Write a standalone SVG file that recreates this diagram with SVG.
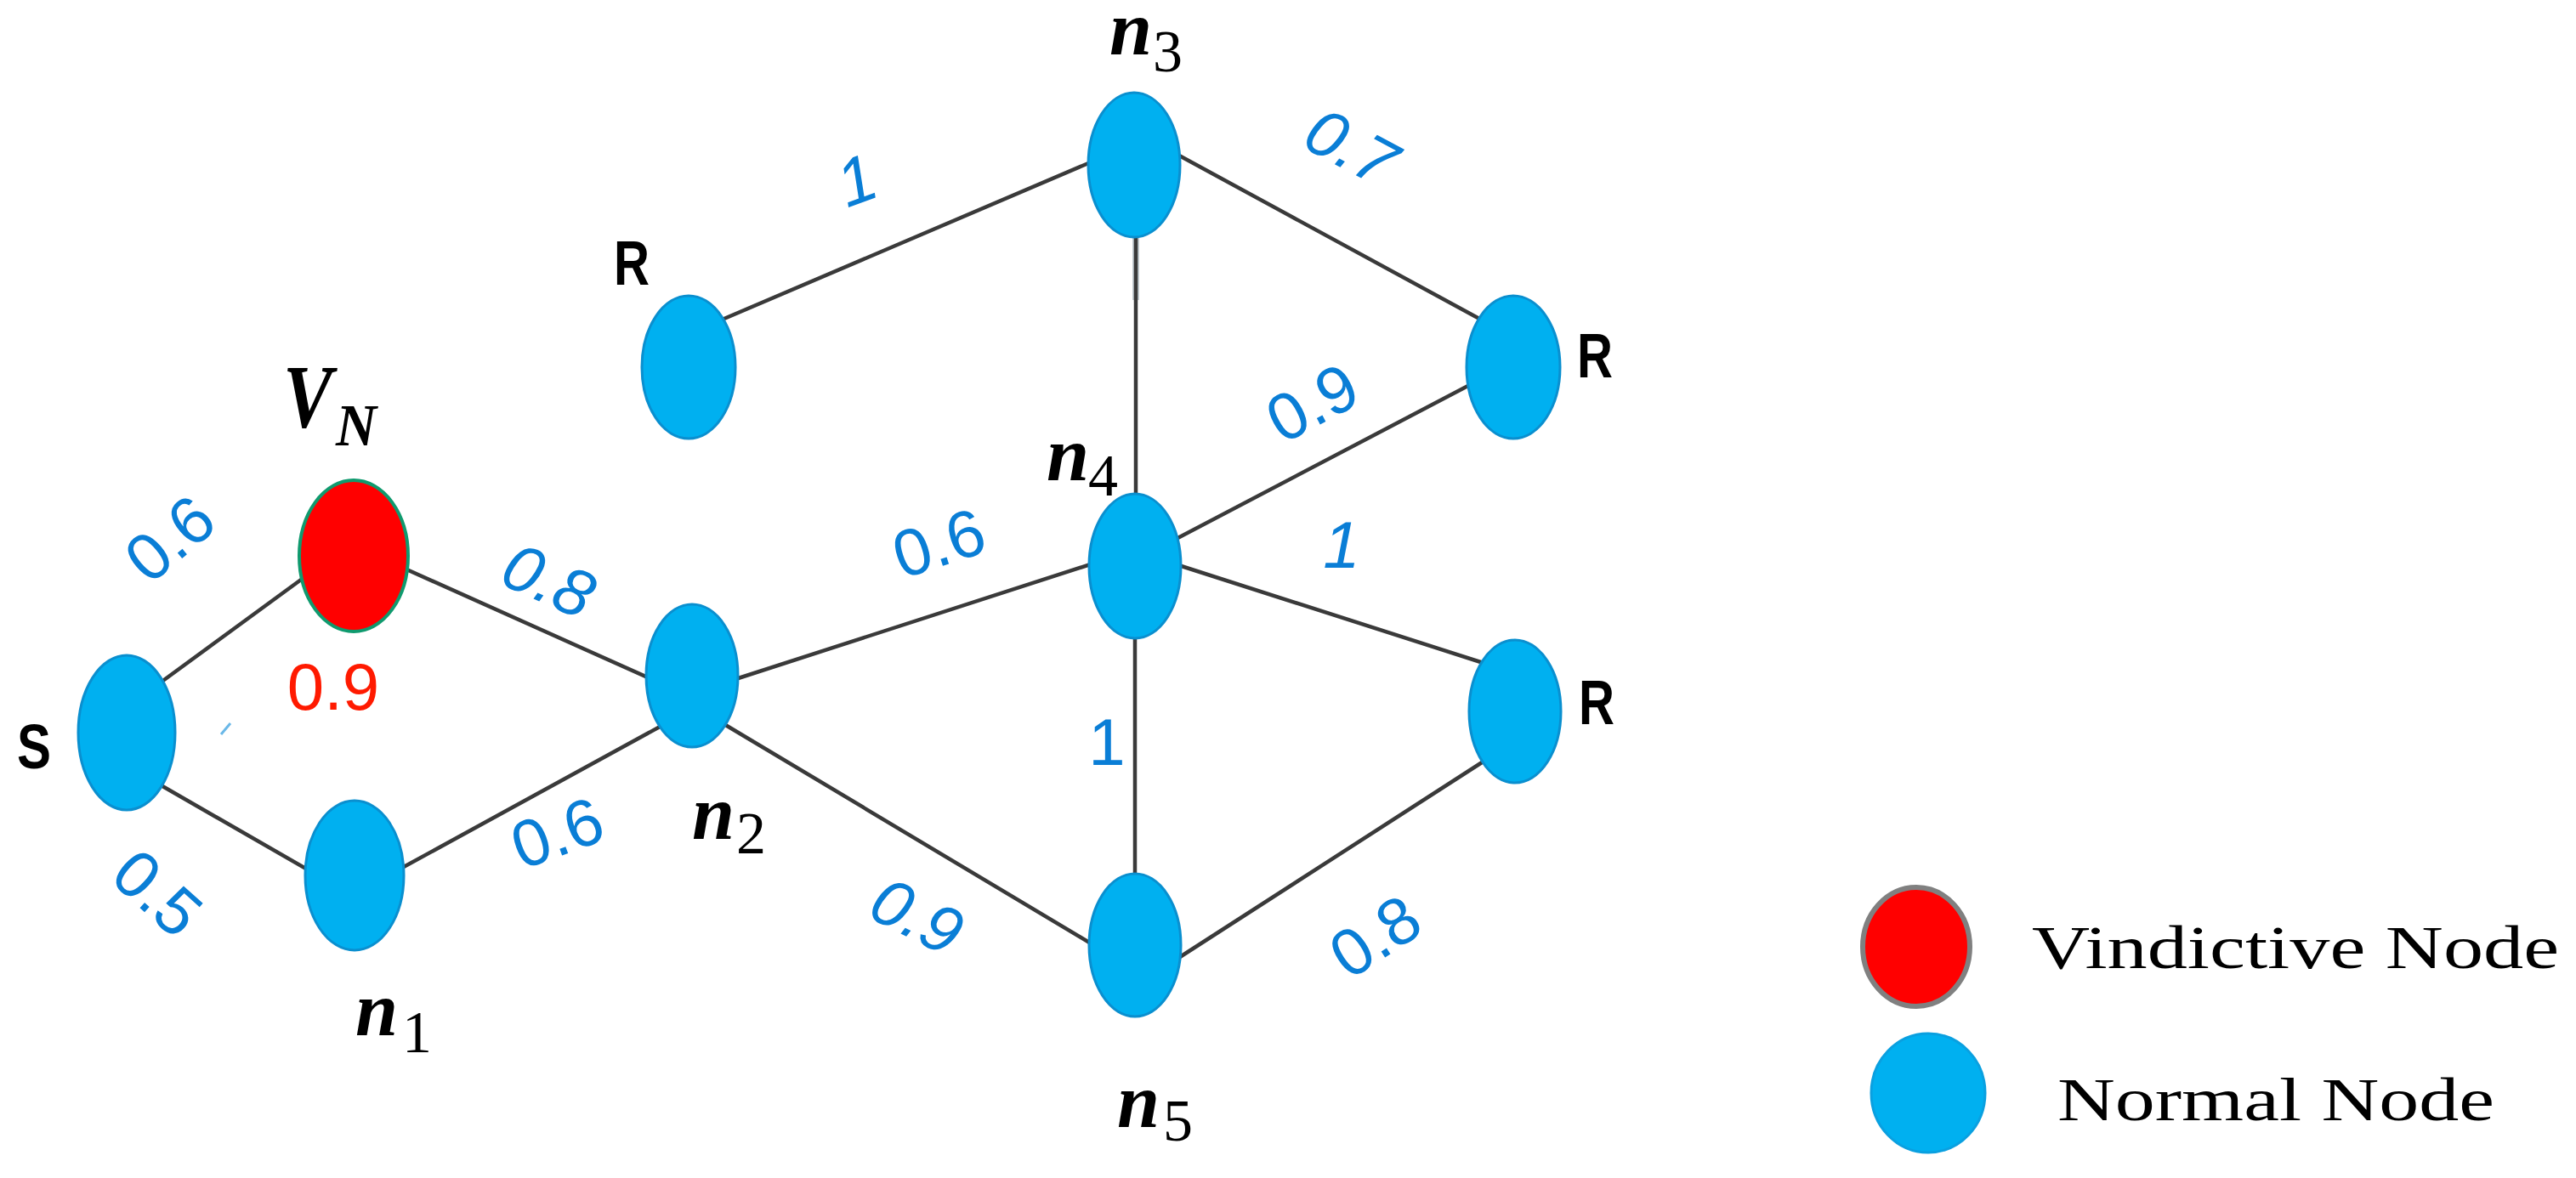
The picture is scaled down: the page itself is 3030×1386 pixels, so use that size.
<svg xmlns="http://www.w3.org/2000/svg" width="3030" height="1386" viewBox="0 0 3030 1386">
<style>
.edge{stroke:#3a3a3a;stroke-width:4.5;fill:none;stroke-linecap:round}
.node{fill:#00b0f0;stroke:#0a8fcf;stroke-width:3}
.w{font-family:"Liberation Sans",Arial,sans-serif;font-size:78px;fill:#0a7ed6;text-anchor:middle}
.lbl{font-family:"Liberation Sans",Arial,sans-serif;font-size:75px;font-weight:bold;fill:#000}
.ni{font-family:"Liberation Serif","Times New Roman",serif;font-size:90px;font-style:italic;font-weight:bold;fill:#000}
.sub{font-family:"Liberation Serif","Times New Roman",serif;font-size:70px;fill:#000}
.leg{font-family:"Liberation Serif","Times New Roman",serif;font-size:72px;fill:#000}
</style>
<rect width="3030" height="1386" fill="#ffffff"/>
<g id="connectors">
<line class="edge" x1="182" y1="808" x2="365" y2="674"/>
<line class="edge" x1="179" y1="918" x2="372" y2="1029"/>
<line class="edge" x1="465" y1="664" x2="775" y2="803"/>
<line class="edge" x1="462" y1="1027" x2="789" y2="848"/>
<line class="edge" x1="856" y1="802" x2="1295" y2="660"/>
<line class="edge" x1="845" y1="848" x2="1293" y2="1116"/>
<line class="edge" x1="840" y1="380" x2="1292" y2="187"/>
<line class="edge" x1="1376" y1="177" x2="1753" y2="382"/>
<line class="edge" x1="1372" y1="640" x2="1740" y2="447"/>
<line class="edge" x1="1377" y1="662" x2="1751" y2="782"/>
<line class="edge" x1="1377" y1="1133" x2="1754" y2="890"/>
<line x1="1336" y1="279" x2="1336" y2="353" stroke="#c3ccd2" stroke-width="8"/>
<line class="edge" x1="1336" y1="270" x2="1336" y2="590"/>
<line class="edge" x1="1335" y1="740" x2="1335" y2="1040"/>
<line x1="260" y1="864" x2="271" y2="851" stroke="#6ab8e8" stroke-width="3"/>
</g>
<g id="node-S">
<ellipse class="node" cx="149" cy="862" rx="57" ry="91"/>
<text class="lbl" x="20" y="904" textLength="40" lengthAdjust="spacingAndGlyphs">S</text>
</g>
<g id="node-VN">
<ellipse cx="416" cy="654" rx="64" ry="89" fill="#ff0000" stroke="#0f9a6e" stroke-width="4"/>
<text x="333" y="502" font-family="Liberation Serif,'Times New Roman',serif" font-size="105" font-style="italic" font-weight="bold" textLength="58" lengthAdjust="spacingAndGlyphs">V</text>
<text x="395" y="524" font-family="Liberation Serif,'Times New Roman',serif" font-size="70" font-style="italic" font-weight="bold" textLength="48" lengthAdjust="spacingAndGlyphs">N</text>
<text x="392" y="835" font-family="Liberation Sans,Arial,sans-serif" font-size="78" fill="#ff1a00" text-anchor="middle">0.9</text>
</g>
<g id="node-n1">
<ellipse class="node" cx="417" cy="1030" rx="58" ry="88"/>
<text class="ni" x="418" y="1218">n</text><text class="sub" x="473" y="1238">1</text>
</g>
<g id="node-n2">
<ellipse class="node" cx="814" cy="795" rx="54" ry="84"/>
<text class="ni" x="814" y="987">n</text><text class="sub" x="866" y="1004">2</text>
</g>
<g id="node-R1">
<ellipse class="node" cx="810" cy="432" rx="55" ry="84"/>
<text class="lbl" x="722" y="335" textLength="42" lengthAdjust="spacingAndGlyphs">R</text>
</g>
<g id="node-n3">
<ellipse class="node" cx="1334" cy="194" rx="54" ry="85"/>
<text class="ni" x="1305" y="64">n</text><text class="sub" x="1356" y="84">3</text>
</g>
<g id="node-n4">
<ellipse class="node" cx="1335" cy="666" rx="54" ry="85"/>
<text class="ni" x="1231" y="565">n</text><text class="sub" x="1280" y="583">4</text>
</g>
<g id="node-n5">
<ellipse class="node" cx="1335" cy="1112" rx="54" ry="84"/>
<text class="ni" x="1314" y="1326">n</text><text class="sub" x="1368" y="1342">5</text>
</g>
<g id="node-R2">
<ellipse class="node" cx="1780" cy="432" rx="55" ry="84"/>
<text class="lbl" x="1855" y="444" textLength="42" lengthAdjust="spacingAndGlyphs">R</text>
</g>
<g id="node-R3">
<ellipse class="node" cx="1782" cy="837" rx="54" ry="84"/>
<text class="lbl" x="1857" y="852" textLength="42" lengthAdjust="spacingAndGlyphs">R</text>
</g>
<g id="weights">
<text class="w" transform="translate(199,633) rotate(-40)" y="28">0.6</text>
<text class="w" transform="translate(186,1050) rotate(42)" y="28">0.5</text>
<text class="w" transform="translate(646,682) rotate(24)" y="28" font-style="italic">0.8</text>
<text class="w" transform="translate(655,979) rotate(-20)" y="28">0.6</text>
<text class="w" transform="translate(1104,638) rotate(-18)" y="28">0.6</text>
<text class="w" transform="translate(1079,1077) rotate(27)" y="28" font-style="italic">0.9</text>
<text class="w" x="1302" y="900">1</text>
<text class="w" x="1578" y="668" font-style="italic">1</text>
<text class="w" transform="translate(1617,1101) rotate(-33)" y="28">0.8</text>
<text class="w" transform="translate(1543,473) rotate(-28)" y="28">0.9</text>
<text class="w" transform="translate(1590,172) rotate(28)" y="28" font-style="italic">0.7</text>
<text class="w" transform="translate(1007,211) rotate(-20)" y="28" font-style="italic">1</text>
</g>
<g id="legend">
<ellipse cx="2254" cy="1114" rx="63" ry="70" fill="#ff0000" stroke="#808080" stroke-width="6"/>
<text class="leg" x="2390" y="1139" textLength="620" lengthAdjust="spacingAndGlyphs">Vindictive Node</text>
<ellipse cx="2268" cy="1286" rx="67" ry="70" fill="#00b0f0" stroke="#0aa0e0" stroke-width="3"/>
<text class="leg" x="2420" y="1318" textLength="514" lengthAdjust="spacingAndGlyphs">Normal Node</text>
</g>
</svg>
